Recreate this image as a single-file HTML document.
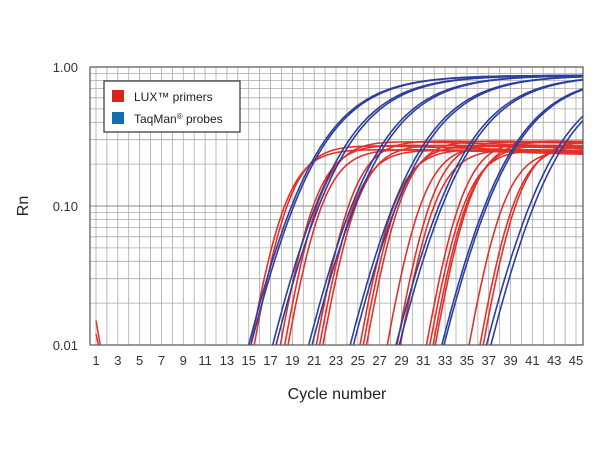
<!DOCTYPE html>
<html><head><meta charset="utf-8"><style>
body{margin:0;background:#fff;}
svg{display:block;font-family:"Liberation Sans",sans-serif;}
</style></head><body>
<svg id="s" width="600" height="450" xmlns="http://www.w3.org/2000/svg">
<defs><clipPath id="c"><rect x="90" y="67" width="493" height="278"/></clipPath></defs>
<g id="grid"></g>
<g id="curves" clip-path="url(#c)"></g>
<rect x="90" y="67" width="493" height="278" fill="none" stroke="#555" stroke-width="1.2"/>
<g id="labels" font-size="13" fill="#333"></g>
<text x="28" y="206" font-size="16" fill="#222" text-anchor="middle" transform="rotate(-90 28 206)">Rn</text>
<text x="337" y="399" font-size="16" fill="#222" text-anchor="middle">Cycle number</text>
<rect x="104" y="81" width="136" height="51" fill="#fff" stroke="#333" stroke-width="1.2"/>
<rect x="112" y="90" width="12" height="12" fill="#d9261c"/>
<rect x="112" y="112" width="12" height="12" fill="#0f6fb0"/>
<text x="134" y="101" font-size="12" fill="#222">LUX™ primers</text>
<text x="134" y="123" font-size="12" fill="#222">TaqMan<tspan font-size="8" dy="-4">®</tspan><tspan dy="4"> probes</tspan></text>
</svg>
<script>
const NS="http://www.w3.org/2000/svg";
const X=c=>96+(c-1)*480/44;
const Y=v=>345-(Math.log10(v)+2)*139;
const g=document.getElementById('grid'),cu=document.getElementById('curves'),lb=document.getElementById('labels');
function el(p,t,a){const e=document.createElementNS(NS,t);for(const k in a)e.setAttribute(k,a[k]);p.appendChild(e);return e;}
for(let c=1;c<=45;c++)el(g,'line',{x1:X(c),x2:X(c),y1:67,y2:345,stroke:'#aaa','stroke-width':0.8});
for(let d=0.01;d<1;d*=10)for(let m=1;m<10;m++){const y=Y(d*m);el(g,'line',{x1:90,x2:583,y1:y,y2:y,stroke:m==1?'#888':'#aaa','stroke-width':m==1?1:0.8});}
for(let c=1;c<=45;c+=2){const t=el(lb,'text',{x:X(c),y:365,'text-anchor':'middle'});t.textContent=c;}
[['1.00',67],['0.10',206],['0.01',345]].forEach(([s,y])=>{const t=el(lb,'text',{x:78,y:y+5,'text-anchor':'end'});t.textContent=s;});
function sp(x){return x>30?x:Math.log(1+Math.exp(x));}
function curve(t,P,m,w,col,dec){
 // find c0 so v(t)=0.01
 const L=Math.log(P/0.01)/(m*w); const x=Math.log(Math.exp(L)-1); const c0=t+x*w;
 let d='';
 for(let c=1;c<=46;c+=0.1){
  let v=P*Math.exp(-m*w*sp(-(c-c0)/w));
  if(dec)v*=1-dec*Math.max(0,c-c0-3);
  v=Math.max(v,0.002);
  d+=(d?'L':'M')+X(c).toFixed(1)+','+Y(v).toFixed(1);
 }
 el(cu,'path',{d:d,fill:'none',stroke:col,'stroke-width':1.6});
}
const R='#e3302a',B='#2d3f9e';
[[15.2,15.5],[17.9,18.3,18.6],[21.2,21.5,21.8],[25.2,25.5,25.8],[27.7,28.6,28.9],[31.3,31.6,31.9,32.1],[35.2,36.2,36.5]].forEach((grp,i)=>grp.forEach((t,j)=>{
 const P=0.26+0.02*((i+j)%3);curve(t,P,1.2,1.6,R,0.003+0.002*(j%2));}));
[[15.0,15.2],[17.2,17.5],[20.5,20.8],[24.3,24.6],[28.5,28.8],[32.7,32.9],[36.8,37.2]].forEach(grp=>grp.forEach(t=>{
 curve(t,0.87,0.96,3.5,B,0);}));
el(cu,'path',{d:`M${X(1)},${Y(0.015)}L${X(1.6)},${Y(0.008)}`,stroke:R,'stroke-width':1.5,fill:'none'});
el(cu,'path',{d:`M${X(1)},${Y(0.012)}L${X(1.5)},${Y(0.008)}`,stroke:R,'stroke-width':1.5,fill:'none'});
</script>
</body></html>
